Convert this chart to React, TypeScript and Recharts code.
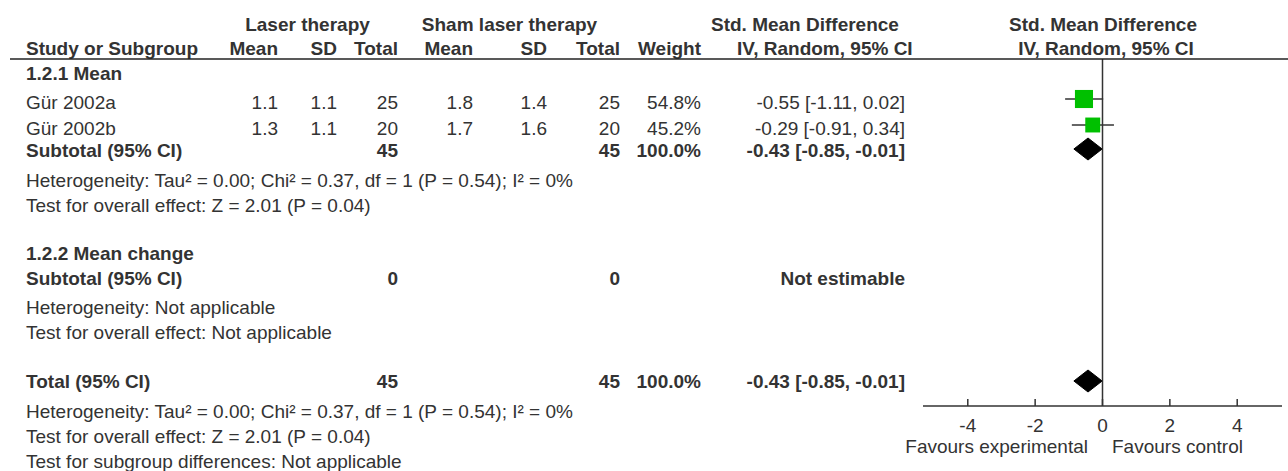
import React from 'react';
import { ComposedChart, XAxis, YAxis, Scatter, ErrorBar, Area, ReferenceLine } from 'recharts';

// ---- data ----
const studyNames = ['Gür 2002a', 'Gür 2002b'];
const laserMean = [1.1, 1.3];
const laserSD = [1.1, 1.1];
const laserTotal = [25, 20];
const shamMean = [1.8, 1.7];
const shamSD = [1.4, 1.6];
const shamTotal = [25, 20];
const weights = [54.8, 45.2];
const smd = [-0.55, -0.29];
const ciLow = [-1.11, -0.91];
const ciHigh = [0.02, 0.34];

// pooled rows: subgroup 1.2.1 subtotal, overall total
const pooledLabels = ['Subtotal (95% CI)', 'Total (95% CI)'];
const pooledLaserN = [45, 45];
const pooledShamN = [45, 45];
const pooledWeight = [100, 100];
const pooledEst = [-0.43, -0.43];
const pooledLow = [-0.85, -0.85];
const pooledHigh = [-0.01, -0.01];

const heterogeneity = 'Heterogeneity: Tau² = 0.00; Chi² = 0.37, df = 1 (P = 0.54); I² = 0%';
const overallEffect = 'Test for overall effect: Z = 2.01 (P = 0.04)';
const axisTicks = [-4, -2, 0, 2, 4];

// ---- layout ----
const W = 1288;
const H = 471;
const FONT = "'Liberation Sans', Arial, Helvetica, sans-serif";
const INK = '#333';
const GREEN = '#00c000';
const RULE_Y = 59;
const AXIS_Y = 406;
const ROW_H = 25;
const PLOT_LEFT = 923;
const PLOT_RIGHT = 1282;
const Y_MAX = (AXIS_Y - RULE_Y) / ROW_H;
const DIAMOND_H = 0.44;

// text row slots, in row units below the header rule
const ROW = {
  head1: -1.41,
  head2: -0.46,
  group1: 0.56,
  study: [1.72, 2.74],
  sub1: 3.64,
  het1: 4.82,
  test1: 5.82,
  group2: 7.74,
  sub2: 8.74,
  het2: 9.92,
  test2: 10.92,
  total: 12.88,
  het3: 14.08,
  test3: 15.08,
  diff: 16.08,
};
// marker row slots (squares sit a touch above the text centre)
const MARK = { study: [1.6, 2.64], pooled: [3.6, 12.88] };

const COL = { study: 26, lMean: 278, lSD: 337, lTotal: 398, sMean: 473, sSD: 547, sTotal: 620, weight: 701, ci: 905 };

const baseline = (row: number) => RULE_Y + row * ROW_H + 7;
const fmtCI = (e: number, l: number, h: number) => `${e.toFixed(2)} [${l.toFixed(2)}, ${h.toFixed(2)}]`;

const studyPoints = studyNames.map((name, i) => ({
  name,
  x: smd[i],
  y: MARK.study[i],
  weight: weights[i],
  ci: [smd[i] - ciLow[i], ciHigh[i] - smd[i]],
}));

const diamonds = pooledEst.map((est, i) => {
  const r = MARK.pooled[i];
  return [
    { x: pooledLow[i], band: [r, r] },
    { x: est, band: [r - DIAMOND_H, r + DIAMOND_H] },
    { x: pooledHigh[i], band: [r, r] },
  ];
});

const pooledTextRows = [ROW.sub1, ROW.total];

const T = ({ x, row, anchor = 'start', bold = false, children }: any) => (
  <text
    x={x}
    y={baseline(row)}
    textAnchor={anchor}
    fontWeight={bold ? 'bold' : 'normal'}
    fontSize={19}
    fontFamily={FONT}
    fill={INK}
  >
    {children}
  </text>
);

const renderSquare = (props: any) => {
  const { cx, cy, payload } = props;
  const s = payload.weight * 0.33;
  return <rect x={cx - s / 2} y={cy - s / 2} width={s} height={s} fill={GREEN} />;
};

const renderTick = (props: any) => {
  const { x, y, payload } = props;
  return (
    <g>
      <line x1={x} x2={x} y1={y - 7} y2={y} stroke={INK} strokeWidth={1.5} />
      <text x={x} y={y + 25.5} textAnchor="middle" fontSize={19} fontFamily={FONT} fill={INK}>
        {payload.value}
      </text>
    </g>
  );
};

const Table = () => (
  <svg width={W} height={H} style={{ position: 'absolute', left: 0, top: 0, pointerEvents: 'none' }}>
    <T x={307.5} row={ROW.head1} anchor="middle" bold>Laser therapy</T>
    <T x={509.5} row={ROW.head1} anchor="middle" bold>Sham laser therapy</T>
    <T x={711} row={ROW.head1} bold>Std. Mean Difference</T>
    <T x={1103} row={ROW.head1} anchor="middle" bold>Std. Mean Difference</T>

    <T x={COL.study} row={ROW.head2} bold>Study or Subgroup</T>
    <T x={COL.lMean} row={ROW.head2} anchor="end" bold>Mean</T>
    <T x={COL.lSD} row={ROW.head2} anchor="end" bold>SD</T>
    <T x={COL.lTotal} row={ROW.head2} anchor="end" bold>Total</T>
    <T x={COL.sMean} row={ROW.head2} anchor="end" bold>Mean</T>
    <T x={COL.sSD} row={ROW.head2} anchor="end" bold>SD</T>
    <T x={COL.sTotal} row={ROW.head2} anchor="end" bold>Total</T>
    <T x={COL.weight} row={ROW.head2} anchor="end" bold>Weight</T>
    <T x={737} row={ROW.head2} bold>IV, Random, 95% CI</T>
    <T x={1106} row={ROW.head2} anchor="middle" bold>IV, Random, 95% CI</T>

    <line x1={10} x2={W} y1={RULE_Y} y2={RULE_Y} stroke="#222" strokeWidth={1.5} />

    <T x={COL.study} row={ROW.group1} bold>1.2.1 Mean</T>
    {studyNames.map((name, i) => (
      <g key={name}>
        <T x={COL.study} row={ROW.study[i]}>{name}</T>
        <T x={COL.lMean} row={ROW.study[i]} anchor="end">{laserMean[i].toFixed(1)}</T>
        <T x={COL.lSD} row={ROW.study[i]} anchor="end">{laserSD[i].toFixed(1)}</T>
        <T x={COL.lTotal} row={ROW.study[i]} anchor="end">{laserTotal[i]}</T>
        <T x={COL.sMean} row={ROW.study[i]} anchor="end">{shamMean[i].toFixed(1)}</T>
        <T x={COL.sSD} row={ROW.study[i]} anchor="end">{shamSD[i].toFixed(1)}</T>
        <T x={COL.sTotal} row={ROW.study[i]} anchor="end">{shamTotal[i]}</T>
        <T x={COL.weight} row={ROW.study[i]} anchor="end">{weights[i].toFixed(1)}%</T>
        <T x={COL.ci} row={ROW.study[i]} anchor="end">{fmtCI(smd[i], ciLow[i], ciHigh[i])}</T>
      </g>
    ))}

    {pooledLabels.map((label, i) => {
      const r = pooledTextRows[i];
      return (
        <g key={label}>
          <T x={COL.study} row={r} bold>{label}</T>
          <T x={COL.lTotal} row={r} anchor="end" bold>{pooledLaserN[i]}</T>
          <T x={COL.sTotal} row={r} anchor="end" bold>{pooledShamN[i]}</T>
          <T x={COL.weight} row={r} anchor="end" bold>{pooledWeight[i].toFixed(1)}%</T>
          <T x={COL.ci} row={r} anchor="end" bold>{fmtCI(pooledEst[i], pooledLow[i], pooledHigh[i])}</T>
        </g>
      );
    })}
    <T x={COL.study} row={ROW.het1}>{heterogeneity}</T>
    <T x={COL.study} row={ROW.test1}>{overallEffect}</T>

    <T x={COL.study} row={ROW.group2} bold>1.2.2 Mean change</T>
    <T x={COL.study} row={ROW.sub2} bold>Subtotal (95% CI)</T>
    <T x={COL.lTotal} row={ROW.sub2} anchor="end" bold>0</T>
    <T x={COL.sTotal} row={ROW.sub2} anchor="end" bold>0</T>
    <T x={COL.ci} row={ROW.sub2} anchor="end" bold>Not estimable</T>
    <T x={COL.study} row={ROW.het2}>Heterogeneity: Not applicable</T>
    <T x={COL.study} row={ROW.test2}>Test for overall effect: Not applicable</T>

    <T x={COL.study} row={ROW.het3}>{heterogeneity}</T>
    <T x={COL.study} row={ROW.test3}>{overallEffect}</T>
    <T x={COL.study} row={ROW.diff}>Test for subgroup differences: Not applicable</T>

    <text x={1088} y={453} textAnchor="end" fontSize={19} fontFamily={FONT} fill={INK}>Favours experimental</text>
    <text x={1112} y={453} textAnchor="start" fontSize={19} fontFamily={FONT} fill={INK}>Favours control</text>
  </svg>
);

export default function App() {
  return (
    <div style={{ position: 'absolute', left: 0, top: 0, width: W, height: H, background: '#fff' }}>
      <ComposedChart
        width={W}
        height={H}
        margin={{ top: RULE_Y, right: W - PLOT_RIGHT, bottom: 0, left: PLOT_LEFT }}
      >
        <XAxis
          type="number"
          dataKey="x"
          domain={[-5.33, 5.33]}
          ticks={axisTicks}
          interval={0}
          allowDataOverflow
          height={H - AXIS_Y}
          tickLine={false}
          tickSize={0}
          tickMargin={0}
          axisLine={{ stroke: INK, strokeWidth: 1.5 }}
          tick={renderTick}
        />
        <YAxis type="number" dataKey="y" domain={[0, Y_MAX]} reversed hide allowDataOverflow />
        <ReferenceLine x={0} stroke={INK} strokeWidth={1.5} />
        {diamonds.map((d, i) => (
          <Area
            key={i}
            data={d}
            dataKey="band"
            type="linear"
            fill="#000"
            fillOpacity={1}
            stroke="#000"
            strokeWidth={1}
            dot={false}
            activeDot={false}
            isAnimationActive={false}
          />
        ))}
        <Scatter data={studyPoints} dataKey="y" shape={renderSquare} isAnimationActive={false}>
          <ErrorBar dataKey="ci" direction="x" width={0} stroke={INK} strokeWidth={1.5} />
        </Scatter>
      </ComposedChart>
      <Table />
    </div>
  );
}
